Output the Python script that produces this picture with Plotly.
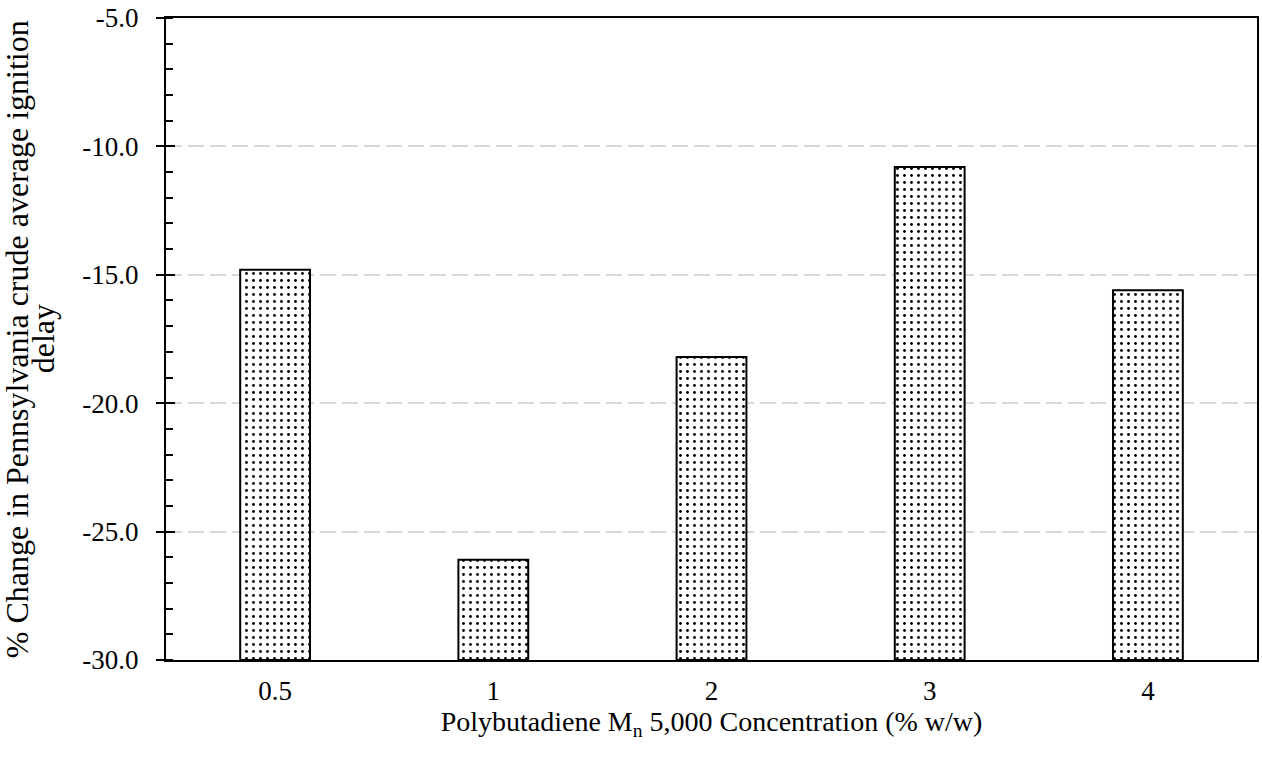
import plotly.graph_objects as go

# Polybutadiene (Mn 5,000) concentration, % w/w
concentrations = ["0.5", "1", "2", "3", "4"]
# % change in average ignition delay of Pennsylvania crude
pct_change = [-14.8, -26.1, -18.2, -10.8, -15.6]

# y-axis ticks
y_tick_vals = [-30, -25, -20, -15, -10, -5]
y_tick_text = ["-30.0", "-25.0", "-20.0", "-15.0", "-10.0", "-5.0"]

y_floor = -30.0
y_top = -5.0

serif = "Liberation Serif, Times New Roman, serif"

fig = go.Figure()
fig.add_trace(go.Bar(
    x=concentrations,
    y=[v - y_floor for v in pct_change],
    base=y_floor,
    marker=dict(
        color="white",
        line=dict(color="black", width=2),
        pattern=dict(shape=".", size=7, solidity=0.13,
                     fgcolor="black", bgcolor="white", fillmode="replace"),
    ),
    width=0.32,
    showlegend=False,
))

# invisible companion trace carrying the inside major ticks
fig.add_trace(go.Scatter(x=concentrations, y=pct_change, yaxis="y2",
                         mode="markers", marker=dict(opacity=0),
                         hoverinfo="skip", showlegend=False))

fig.update_layout(
    width=1262, height=758,
    margin=dict(l=166, r=3, t=16, b=98),
    paper_bgcolor="white", plot_bgcolor="white",
    font=dict(family=serif, color="black", size=27),
    xaxis=dict(
        type="category",
        showline=True, linecolor="black", linewidth=2, mirror=True,
        ticks="", showgrid=False,
        tickfont=dict(size=27),
        ticklabelstandoff=6,
        title=dict(text="Polybutadiene M<sub>n</sub> 5,000 Concentration (% w/w)",
                   font=dict(size=28), standoff=4),
    ),
    yaxis=dict(
        range=[y_floor, y_top],
        tickmode="array", tickvals=y_tick_vals, ticktext=y_tick_text,
        showline=True, linecolor="black", linewidth=2, mirror=True,
        ticks="outside", ticklen=8, tickwidth=2, tickcolor="black",
        minor=dict(ticks="inside", dtick=1, ticklen=7, tickwidth=2,
                   tickcolor="black", showgrid=False),
        showgrid=True, gridcolor="#d9d9d9", gridwidth=2, griddash="16px,6px",
        zeroline=False,
        tickfont=dict(size=27),
        ticklabelstandoff=12,
    ),
    yaxis2=dict(
        overlaying="y", range=[y_floor, y_top],
        tickmode="array", tickvals=y_tick_vals,
        side="left", showline=False, showgrid=False, zeroline=False,
        ticks="inside", ticklen=9, tickwidth=2, tickcolor="black",
        showticklabels=False,
    ),
    annotations=[
        dict(text="% Change in Pennsylvania crude average ignition",
             xref="paper", yref="paper", x=(17 - 166) / 1093, y=0.5,
             xanchor="center", yanchor="middle", textangle=-90,
             showarrow=False, font=dict(size=32)),
        dict(text="delay",
             xref="paper", yref="paper", x=(43 - 166) / 1093, y=0.5,
             xanchor="center", yanchor="middle", textangle=-90,
             showarrow=False, font=dict(size=32)),
    ],
)

fig.write_html("out.html")
